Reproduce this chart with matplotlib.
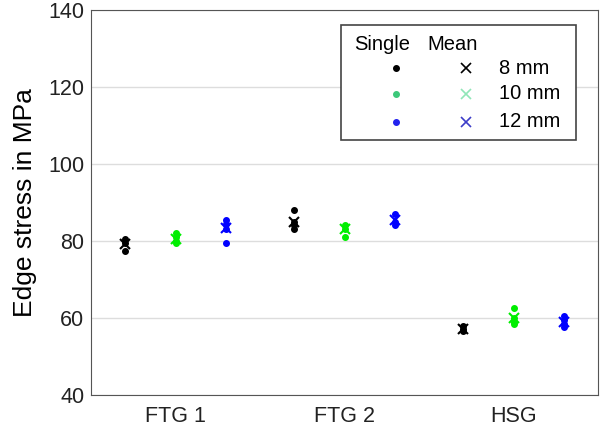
import matplotlib.pyplot as plt
from matplotlib.patches import Rectangle

plt.rcParams['font.family'] = ['Liberation Sans', 'DejaVu Sans']

groups = ["FTG 1", "FTG 2", "HSG"]
sizes = ["8 mm", "10 mm", "12 mm"]

# single measurements per group, per edge size (8, 10, 12 mm)
single = {
    "8 mm":  [[80.5, 79.5, 77.5], [88.0, 85.0, 84.0, 83.0], [58.0, 57.0, 56.5]],
    "10 mm": [[82.0, 81.0, 80.0, 79.5], [84.0, 83.0, 81.0], [62.5, 60.0, 59.0, 58.5]],
    "12 mm": [[85.5, 84.5, 83.0, 79.5], [87.0, 85.0, 84.0], [60.5, 59.5, 58.5, 57.5]],
}
mean = {
    "8 mm":  [79.2, 84.8, 57.2],
    "10 mm": [80.6, 83.0, 60.0],
    "12 mm": [83.4, 85.3, 59.0],
}

dot_colors = ["black", "#00ee00", "#0000ff"]
x_colors = ["black", "#00ee00", "#0000ff"]
leg_dot_colors = ["black", "#3cc87a", "#2222ee"]
leg_x_colors = ["black", "#90e6b8", "#3c3cc8"]
offsets = [-0.3, 0.0, 0.3]

fig = plt.figure(figsize=(6, 4.32), dpi=100)
ax = fig.add_axes([0.152, 0.086, 0.845, 0.891])

for k, s in enumerate(sizes):
    for g in range(len(groups)):
        vals = single[s][g]
        ax.plot([g + 1 + offsets[k]] * len(vals), vals, "o", color=dot_colors[k],
                markersize=4, linestyle="none")
    ax.plot([g + 1 + offsets[k] for g in range(len(groups))], mean[s], "x",
            color=x_colors[k], markersize=7, markeredgewidth=1.5, linestyle="none")

ax.set_xlim(0.5, 3.5)
ax.set_ylim(40, 140)
ax.set_yticks([40, 60, 80, 100, 120, 140])
ax.set_xticks([1, 2, 3])
ax.set_xticklabels(groups)
ax.tick_params(labelsize=15.5, direction="in", length=0, colors="#222222")
ax.tick_params(axis="y", pad=5)
ax.tick_params(axis="x", pad=8)
ax.grid(axis="y", color="#dddddd", linewidth=1)
ax.set_axisbelow(True)
ax.set_ylabel("Edge stress in MPa", fontsize=19, labelpad=8)
for sp in ax.spines.values():
    sp.set_color("#555555")

# hand-built legend
ax.add_patch(Rectangle((0.493, 0.662), 0.464, 0.299, transform=ax.transAxes,
                       facecolor="white", edgecolor="#444444", linewidth=1.2, zorder=5))
ax.text(0.574, 0.909, "Single", transform=ax.transAxes, ha="center", va="center",
        fontsize=14.5, zorder=6)
ax.text(0.712, 0.909, "Mean", transform=ax.transAxes, ha="center", va="center",
        fontsize=14.5, zorder=6)
rows = [0.849, 0.782, 0.709]
for k, s in enumerate(sizes):
    ax.plot([0.601], [rows[k]], "o", color=leg_dot_colors[k], markersize=4,
            transform=ax.transAxes, zorder=6)
    ax.plot([0.739], [rows[k]], "x", color=leg_x_colors[k], markersize=6.5,
            markeredgewidth=1.2, transform=ax.transAxes, zorder=6)
    ax.text(0.805, rows[k], s, transform=ax.transAxes, ha="left", va="center",
            fontsize=14.5, zorder=6)

fig.savefig("out.png", dpi=100)
